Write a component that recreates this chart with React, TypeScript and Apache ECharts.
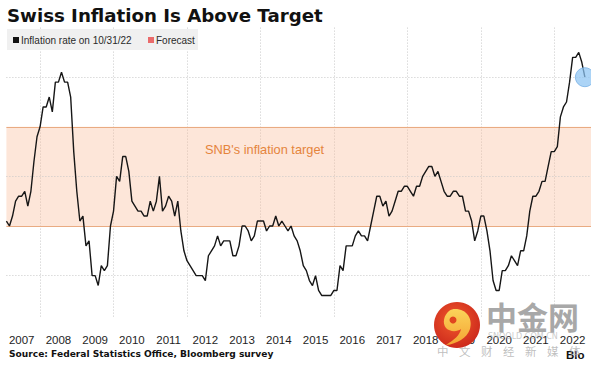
import React, { useEffect, useRef } from "react";
import * as echarts from "echarts";

// ---- data (Swiss CPI, % y/y, monthly) ----
const years = [2007, 2008, 2009, 2010, 2011, 2012, 2013, 2014, 2015, 2016, 2017, 2018, 2019, 2020, 2021, 2022];
const infl2007 = [0.1, 0.0, 0.2, 0.5, 0.6, 0.6, 0.7, 0.4, 0.7, 1.3, 1.8, 2.0];
const infl2008 = [2.4, 2.4, 2.6, 2.3, 2.9, 2.9, 3.1, 2.9, 2.9, 2.6, 1.5, 0.7];
const infl2009 = [0.1, 0.2, -0.4, -0.3, -1.0, -1.0, -1.2, -0.8, -0.9, -0.8, 0.0, 0.3];
const infl2010 = [1.0, 0.9, 1.4, 1.4, 1.1, 0.5, 0.4, 0.3, 0.3, 0.2, 0.2, 0.5];
const infl2011 = [0.3, 0.5, 1.0, 0.3, 0.4, 0.6, 0.5, 0.2, 0.5, -0.1, -0.5, -0.7];
const infl2012 = [-0.8, -0.9, -1.0, -1.0, -1.0, -1.1, -0.6, -0.5, -0.4, -0.2, -0.4, -0.3];
const infl2013 = [-0.3, -0.3, -0.6, -0.6, -0.4, 0.0, 0.0, -0.1, -0.3, -0.2, 0.1, 0.1];
const infl2014 = [0.1, -0.1, 0.0, 0.0, 0.2, 0.0, 0.1, 0.0, -0.1, 0.0, -0.2, -0.3];
const infl2015 = [-0.5, -0.8, -0.9, -1.1, -1.2, -1.0, -1.3, -1.4, -1.4, -1.4, -1.4, -1.3];
const infl2016 = [-1.3, -0.8, -0.9, -0.4, -0.4, -0.4, -0.2, -0.1, -0.2, -0.2, -0.3, 0.0];
const infl2017 = [0.3, 0.6, 0.6, 0.4, 0.5, 0.2, 0.3, 0.5, 0.7, 0.7, 0.8, 0.8];
const infl2018 = [0.7, 0.6, 0.8, 0.8, 1.0, 1.1, 1.2, 1.2, 1.0, 1.1, 0.9, 0.7];
const infl2019 = [0.6, 0.6, 0.7, 0.7, 0.6, 0.6, 0.3, 0.3, 0.1, -0.3, -0.1, 0.2];
const infl2020 = [0.2, -0.1, -0.5, -1.1, -1.3, -1.3, -0.9, -0.9, -0.8, -0.6, -0.7, -0.8];
const infl2021 = [-0.5, -0.5, -0.2, 0.3, 0.6, 0.6, 0.7, 0.9, 0.9, 1.2, 1.5, 1.5];
const infl2022 = [1.6, 2.2, 2.4, 2.5, 2.9, 3.4, 3.4, 3.5, 3.3, 3.0];

const inflation = [
  ...infl2007, ...infl2008, ...infl2009, ...infl2010, ...infl2011, ...infl2012,
  ...infl2013, ...infl2014, ...infl2015, ...infl2016, ...infl2017, ...infl2018,
  ...infl2019, ...infl2020, ...infl2021, ...infl2022,
];

const months: string[] = [];
years.forEach((y) => {
  for (let m = 1; m <= 12; m++) months.push(`${y}-${m < 10 ? "0" + m : m}`);
});

const targetLow = 0;
const targetHigh = 2;
const gridLevels = [-1, 1, 3];

const titleText = "Swiss Inflation Is Above Target";
const legendLine = "Inflation rate on 10/31/22";
const legendForecast = "Forecast";
const bandLabel = "SNB's inflation target";
const sourceText = "Source: Federal Statistics Office, Bloomberg survey";
const watermarkChars = ["中", "文", "财", "经", "新", "媒", "体"];

const swirlPath =
  "M -2 -16 C 10 -16 16 -6 13 4 C 10 13 0 19 -11 20 C -3 15 3 10 4 4 C 0 7 -7 7 -11 3 C -15 -2 -13 -10 -8 -14 C -6 -15.5 -4 -16 -2 -16 Z";
echarts.graphic.registerShape("swirl", echarts.graphic.extendPath(swirlPath, {}));

export default function App() {
  const ref = useRef<HTMLDivElement>(null);

  useEffect(() => {
    if (!ref.current) return;
    const chart = echarts.init(ref.current, null, { renderer: "svg" });
    const lastIndex = inflation.length - 1;

    const option: any = {
      animation: false,
      backgroundColor: "#ffffff",
      grid: { left: 6.4, right: 0, top: 27.6, bottom: 50, containLabel: false },
      xAxis: {
        type: "category",
        data: months,
        boundaryGap: false,
        axisLine: { show: false },
        axisTick: { show: false },
        axisLabel: {
          interval: (i: number, v: string) => v.endsWith("-06"),
          formatter: (v: string) => v.slice(0, 4),
          color: "#1e1e1e",
          fontSize: 11.5,
          fontFamily: "'Liberation Sans', Arial, sans-serif",
          margin: 16,
        },
        splitLine: {
          show: true,
          interval: (i: number, v: string) => v.endsWith("-12") && parseInt(v.slice(0, 4), 10) % 2 === 1,
          lineStyle: { color: "#c8c8c8", type: [1, 2], width: 1 },
        },
      },
      yAxis: {
        type: "value",
        min: -1.855,
        max: 4,
        axisLine: { show: false },
        axisTick: { show: false },
        axisLabel: { show: false },
        splitLine: { show: false },
      },
      series: [
        {
          type: "line",
          data: inflation,
          symbol: "none",
          lineStyle: { color: "#161616", width: 1.4 },
          z: 5,
          markArea: {
            silent: true,
            itemStyle: { color: "rgba(249,190,155,0.38)" },
            data: [[{ yAxis: targetLow }, { yAxis: targetHigh }]],
          },
          markLine: {
            silent: true,
            symbol: "none",
            label: { show: false },
            data: [
              ...gridLevels.map((v) => ({
                yAxis: v,
                lineStyle: { color: "#c8c8c8", type: [1, 2], width: 1 },
              })),
              ...[targetLow, targetHigh].map((v) => ({
                yAxis: v,
                lineStyle: { color: "#e9ab82", type: "solid", width: 1.2 },
              })),
            ],
          },
        },
        {
          type: "scatter",
          data: [[months[lastIndex], inflation[lastIndex]]],
          symbolSize: 19,
          itemStyle: { color: "rgba(140,195,242,0.9)", borderColor: "#79b2e6", borderWidth: 1 },
          z: 6,
        },
      ],
      graphic: [
        {
          type: "text",
          left: 7,
          top: 6,
          style: {
            text: titleText,
            fontSize: 18.2,
            fontWeight: "bold",
            fontFamily: "'DejaVu Sans', Verdana, sans-serif",
            fill: "#111111",
          },
        },
        { type: "rect", shape: { x: 7, y: 29, width: 191, height: 21 }, style: { fill: "rgba(238,238,238,0.9)" }, z: 1 },
        { type: "rect", shape: { x: 13, y: 37, width: 6, height: 6 }, style: { fill: "#111111" }, z: 2 },
        {
          type: "text",
          x: 21,
          y: 40,
          style: {
            text: legendLine,
            fontSize: 10,
            fontFamily: "'Liberation Sans', Arial, sans-serif",
            fill: "#2a2a2a",
            verticalAlign: "middle",
          },
          z: 2,
        },
        { type: "rect", shape: { x: 148, y: 37, width: 6, height: 6 }, style: { fill: "#ea6b6b" }, z: 2 },
        {
          type: "text",
          x: 156,
          y: 40,
          style: {
            text: legendForecast,
            fontSize: 10,
            fontFamily: "'Liberation Sans', Arial, sans-serif",
            fill: "#2a2a2a",
            verticalAlign: "middle",
          },
          z: 2,
        },
        {
          type: "text",
          x: 205,
          y: 149,
          style: {
            text: bandLabel,
            fontSize: 12.8,
            fontFamily: "'Liberation Sans', Arial, sans-serif",
            fill: "#e5843c",
            verticalAlign: "middle",
          },
          z: 3,
        },
        {
          type: "text",
          x: 9,
          y: 354,
          style: {
            text: sourceText,
            fontSize: 9.1,
            fontWeight: "bold",
            fontFamily: "'DejaVu Sans', Verdana, sans-serif",
            fill: "#111111",
            verticalAlign: "middle",
          },
        },
        {
          type: "text",
          x: 566,
          y: 355,
          style: {
            text: "Blo",
            fontSize: 11.5,
            fontWeight: "bold",
            fontFamily: "'Liberation Sans', Arial, sans-serif",
            fill: "#111111",
            verticalAlign: "middle",
          },
        },
        // watermark
        {
          type: "circle",
          shape: { cx: 457, cy: 325, r: 23 },
          style: {
            fill: new echarts.graphic.RadialGradient(0.45, 0.4, 0.7, [
              { offset: 0, color: "#f15a2c" },
              { offset: 1, color: "#c8231a" },
            ]),
          },
          z: 50,
        },
        {
          type: "swirl",
          x: 457,
          y: 325,
          style: {
            fill: new echarts.graphic.LinearGradient(0, 0, 0, 1, [
              { offset: 0, color: "#fbd35a" },
              { offset: 1, color: "#f4a433" },
            ]),
          },
          z: 51,
        },
        { type: "circle", shape: { cx: 453, cy: 320, r: 3.5 }, style: { fill: "#e0451f" }, z: 52 },
        {
          type: "text",
          x: 486,
          y: 315,
          style: {
            text: "中金网",
            fontSize: 31,
            fontWeight: "bold",
            fontFamily: "'Noto Sans CJK SC', sans-serif",
            fill: "#a8a8a8",
            verticalAlign: "middle",
          },
          z: 50,
        },
        {
          type: "text",
          x: 488,
          y: 336,
          style: {
            text: "SNOOLD.COM.CN",
            fontSize: 8,
            fontFamily: "'DejaVu Sans', sans-serif",
            fill: "rgba(180,180,180,0.7)",
            verticalAlign: "middle",
          },
          z: 50,
        },
        ...watermarkChars.map((c, i) => ({
          type: "text",
          x: 437 + i * 22,
          y: 351,
          style: {
            text: c,
            fontSize: 11.5,
            fontFamily: "'Noto Sans CJK SC', sans-serif",
            fill: "rgba(170,170,170,0.75)",
            verticalAlign: "middle",
          },
          z: 50,
        })),
      ],
    };

    chart.setOption(option);
    return () => chart.dispose();
  }, []);

  return (
    <div
      ref={ref}
      style={{ position: "fixed", left: 0, top: 0, width: 591, height: 368 }}
    />
  );
}
